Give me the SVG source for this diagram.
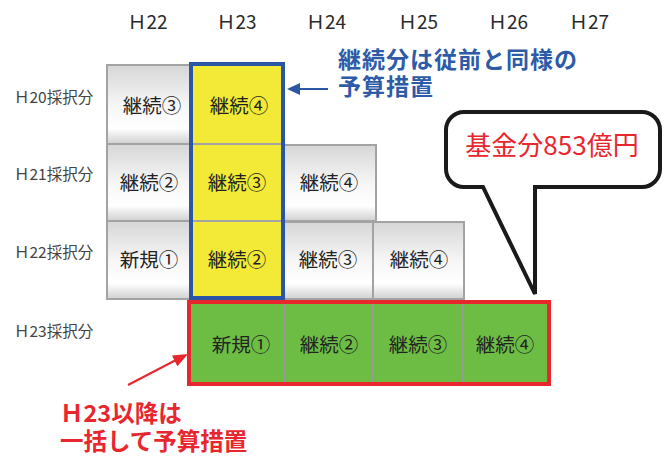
<svg xmlns="http://www.w3.org/2000/svg" width="665" height="456" viewBox="0 0 665 456">
<defs>
<linearGradient id="gray" x1="0" y1="0" x2="0" y2="1">
<stop offset="0" stop-color="#d6d6d6"/>
<stop offset="0.5" stop-color="#f6f6f6"/>
<stop offset="0.8" stop-color="#ffffff"/>
<stop offset="1" stop-color="#d0d0d0"/>
</linearGradient>
</defs>
<style>
text{font-family:"Noto Sans CJK JP","Noto Sans",sans-serif;}
.hdr{font-size:19px;fill:#2a2a2a;text-anchor:middle;}
.row{font-size:15.5px;fill:#444;}
.cell{font-size:19.5px;fill:#222;text-anchor:middle;}
.g{fill:url(#gray);stroke:#a3a3a3;stroke-width:2;}
.y{fill:#f2ea36;stroke:#a3a3a3;stroke-width:2;}
.gr{fill:#6dbd45;stroke:#999;stroke-width:2;}
.blue{font-size:23px;font-weight:bold;fill:#2d5ba8;letter-spacing:1px;}
.red{font-size:23.5px;font-weight:bold;fill:#e8262d;}
</style>
<rect width="665" height="456" fill="#fff"/>
<g id="headers">
<text class="hdr" x="147.5" y="29">Ｈ22</text>
<text class="hdr" x="236.5" y="29">Ｈ23</text>
<text class="hdr" x="326" y="29">Ｈ24</text>
<text class="hdr" x="418" y="29">Ｈ25</text>
<text class="hdr" x="508" y="29">Ｈ26</text>
<text class="hdr" x="589" y="29">Ｈ27</text>
</g>
<g id="row-labels">
<text class="row" x="14" y="103">Ｈ20採択分</text>
<text class="row" x="14" y="180">Ｈ21採択分</text>
<text class="row" x="14" y="258">Ｈ22採択分</text>
<text class="row" x="14" y="337">Ｈ23採択分</text>
</g>
<g id="r1c1"><rect class="g" x="107" y="65" width="84" height="79"/><text class="cell" x="152" y="113">継続③</text></g>
<g id="r1c2"><rect class="y" x="191" y="65" width="92" height="79"/><text class="cell" x="239" y="113">継続④</text></g>
<g id="r2c1"><rect class="g" x="107" y="144" width="84" height="77"/><text class="cell" x="149" y="190">継続②</text></g>
<g id="r2c2"><rect class="y" x="191" y="144" width="92" height="77"/><text class="cell" x="237" y="190">継続③</text></g>
<g id="r2c3"><rect class="g" x="283" y="145" width="93" height="76"/><text class="cell" x="329" y="190">継続④</text></g>
<g id="r3c1"><rect class="g" x="107" y="221" width="84" height="78"/><text class="cell" x="149" y="267">新規①</text></g>
<g id="r3c2"><rect class="y" x="191" y="221" width="92" height="78"/><text class="cell" x="237" y="267">継続②</text></g>
<g id="r3c3"><rect class="g" x="283" y="222" width="90" height="77"/><text class="cell" x="328" y="267">継続③</text></g>
<g id="r3c4"><rect class="g" x="373" y="222" width="91" height="77"/><text class="cell" x="419" y="267">継続④</text></g>
<g id="blue-frame"><rect x="191" y="64" width="92" height="234" fill="none" stroke="#2b56a6" stroke-width="4"/></g>
<g id="r4c2"><rect class="gr" x="189" y="302" width="95" height="82"/><text class="cell" x="241" y="352">新規①</text></g>
<g id="r4c3"><rect class="gr" x="284" y="302" width="89" height="82"/><text class="cell" x="329" y="352">継続②</text></g>
<g id="r4c4"><rect class="gr" x="373" y="302" width="90" height="82"/><text class="cell" x="418" y="352">継続③</text></g>
<g id="r4c5"><rect class="gr" x="463" y="302" width="86" height="82"/><text class="cell" x="505" y="352">継続④</text></g>
<g id="red-frame"><rect x="189" y="302" width="360" height="82" fill="none" stroke="#e8262d" stroke-width="4"/></g>
<g id="bubble">
<path d="M535,187 L642,187 A18,18 0 0 0 660,169 L660,130 A18,18 0 0 0 642,112 L464,112 A18,18 0 0 0 446,130 L446,169 A18,18 0 0 0 464,187 L483,187 L535,294 Z" fill="#fff" stroke="#1a1a1a" stroke-width="4" stroke-linejoin="miter"/>
<text x="552" y="155" font-size="26" fill="#e8262d" text-anchor="middle">基金分853億円</text>
</g>
<g id="blue-note">
<text class="blue" x="338" y="68">継続分は従前と同様の</text>
<text class="blue" x="338" y="95">予算措置</text>
</g>
<g id="red-note">
<text class="red" x="60" y="422">Ｈ23以降は</text>
<text class="red" x="60" y="450">一括して予算措置</text>
</g>
<g id="connectors">
<line x1="328" y1="89" x2="298" y2="89" stroke="#2b56a6" stroke-width="2"/>
<polygon points="287,89 300,83 300,95" fill="#2b56a6"/>
<line x1="128" y1="385" x2="176" y2="360" stroke="#e8262d" stroke-width="2"/>
<polygon points="188,354 177.4,366.2 172,355.6" fill="#e8262d"/>
</g>
</svg>
